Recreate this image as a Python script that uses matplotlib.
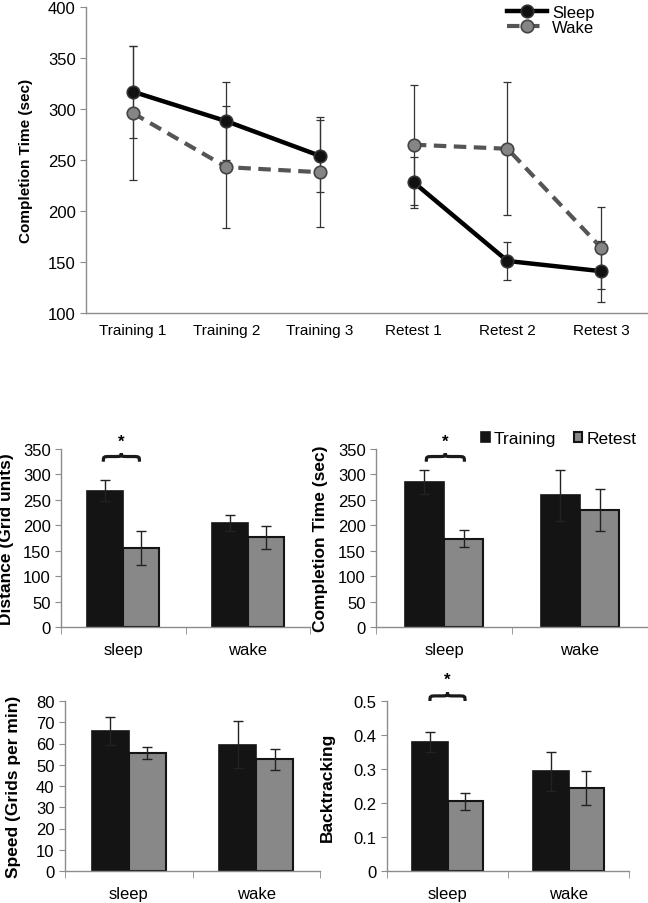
import matplotlib.pyplot as plt
import numpy as np
from matplotlib.path import Path
from matplotlib.patches import PathPatch

plt.rcParams["font.family"] = ["Liberation Sans", "DejaVu Sans"]

# top panel: completion time over sessions
sessions = ["Training 1", "Training 2", "Training 3", "Retest 1", "Retest 2", "Retest 3"]
sleep_time = [317, 288, 254, 228, 151, 141]
sleep_err = [45, 38, 35, 25, 19, 30]
wake_time = [296, 243, 238, 265, 261, 164]
wake_err = [66, 60, 54, 59, 65, 40]

# bottom panels: training vs retest by group
groups = ["sleep", "wake"]
dist_train = [268, 204]
dist_train_err = [21, 16]
dist_retest = [155, 176]
dist_retest_err = [33, 23]

ct_train = [285, 259]
ct_train_err = [24, 50]
ct_retest = [174, 230]
ct_retest_err = [16, 41]

speed_train = [66, 59.5]
speed_train_err = [6.5, 11]
speed_retest = [55.5, 52.5]
speed_retest_err = [3, 5]

back_train = [0.38, 0.293]
back_train_err = [0.03, 0.058]
back_retest = [0.205, 0.245]
back_retest_err = [0.025, 0.05]

W, H = 648, 904
fig = plt.figure(figsize=(W / 100, H / 100), dpi=100)
axis_grey = "#8c8c8c"


def px_axes(l, r, t, b):
    return fig.add_axes([l / W, 1 - b / H, (r - l) / W, (b - t) / H])


def style(ax):
    for s in ["top", "right"]:
        ax.spines[s].set_visible(False)
    for s in ["left", "bottom"]:
        ax.spines[s].set_color(axis_grey)
        ax.spines[s].set_linewidth(1)
    ax.tick_params(axis="y", direction="out", length=4, color=axis_grey, labelsize=12)


def brace(ax, x0, x1, y, h):
    # curly brace, ends pointing down, tip pointing up
    mid = (x0 + x1) / 2
    d = 0.2 * (x1 - x0)
    ym = y + h * 0.6
    verts = [(x0, y), (x0, ym), (x0, ym), (x0 + d, ym),
             (mid - d, ym),
             (mid, ym), (mid, ym), (mid, y + h),
             (mid, ym), (mid, ym), (mid + d, ym),
             (x1 - d, ym),
             (x1, ym), (x1, ym), (x1, y)]
    codes = [Path.MOVETO, Path.CURVE4, Path.CURVE4, Path.CURVE4,
             Path.LINETO,
             Path.CURVE4, Path.CURVE4, Path.CURVE4,
             Path.CURVE4, Path.CURVE4, Path.CURVE4,
             Path.LINETO,
             Path.CURVE4, Path.CURVE4, Path.CURVE4]
    ax.add_patch(PathPatch(Path(verts, codes), fill=False, lw=2.3, color="#1a1a1a",
                           clip_on=False))


# ---- top line chart ----
ax = px_axes(86, 648, 8, 314)
style(ax)
x = np.arange(len(sessions))
ax.errorbar(x, sleep_time, yerr=sleep_err, fmt="none", ecolor="#333333",
            elinewidth=0.9, capsize=3, capthick=0.9)
ax.errorbar(x, wake_time, yerr=wake_err, fmt="none", ecolor="#333333",
            elinewidth=0.9, capsize=3, capthick=0.9)
ax.plot(x[:3], sleep_time[:3], color="black", lw=3.2,
        marker="o", ms=9, mfc="#111111", mec="#333333", mew=1.2, label="Sleep")
ax.plot(x[3:], sleep_time[3:], color="black", lw=3.2,
        marker="o", ms=9, mfc="#111111", mec="#333333", mew=1.2)
ax.plot(x[:3], wake_time[:3], color="#555555", lw=3, ls=(0, (3, 1.8)),
        marker="o", ms=9, mfc="#858585", mec="#444444", mew=1.2, label="Wake")
ax.plot(x[3:], wake_time[3:], color="#555555", lw=3, ls=(0, (3, 1.8)),
        marker="o", ms=9, mfc="#858585", mec="#444444", mew=1.2)
ax.set_xlim(-0.5, len(sessions) - 0.5)
ax.set_ylim(100, 400)
ax.set_yticks(np.arange(100, 401, 50))
ax.set_xticks(x)
ax.set_xticklabels(sessions, fontsize=11)
ax.tick_params(axis="x", length=0, pad=7)
ax.tick_params(axis="y", labelsize=12)
ax.set_ylabel("Completion Time (sec)", fontsize=11, fontweight="bold")
ax.yaxis.set_label_coords(-0.094, 0.5)
ax.legend(loc="upper right", bbox_to_anchor=(0.92, 1.035),
          frameon=False, fontsize=12, handlelength=2.4, handletextpad=0.3,
          labelspacing=0.0, borderpad=0)


# ---- bottom bar charts ----
def bar_panel(ax, train, train_err, retest, retest_err, ymax, step, ylabel, lab_x, fmt):
    style(ax)
    xg = np.arange(len(groups))
    bw = 0.29
    ax.bar(xg - bw / 2, train, bw, color="#141414", edgecolor="#141414", lw=1.2,
           yerr=train_err, error_kw=dict(ecolor="#222222", elinewidth=1, capsize=3.5,
                                         capthick=1), label="Training")
    ax.bar(xg + bw / 2, retest, bw, color="#888888", edgecolor="#141414", lw=1.5,
           yerr=retest_err, error_kw=dict(ecolor="#222222", elinewidth=1, capsize=3.5,
                                          capthick=1), label="Retest")
    ax.set_xlim(-0.5, len(groups) - 0.5)
    ax.set_ylim(0, ymax)
    ticks = np.arange(0, ymax + step / 2, step)
    ax.set_yticks(ticks)
    ax.set_yticklabels([fmt(v) for v in ticks])
    ax.set_xticks(xg)
    ax.set_xticklabels(groups, fontsize=12)
    ax.set_xticks([-0.5, 0.5, 1.5], minor=True)
    ax.tick_params(axis="x", which="major", length=0, pad=11)
    ax.tick_params(axis="x", which="minor", length=5, color=axis_grey)
    ax.set_ylabel(ylabel, fontsize=12.5, fontweight="bold")
    ax.yaxis.set_label_coords(lab_x, 0.5)


ax_a = px_axes(61, 310, 450, 628)
bar_panel(ax_a, dist_train, dist_train_err, dist_retest, dist_retest_err, 350, 50,
          "Distance (Grid units)", -0.19, lambda v: f"{v:g}")
brace(ax_a, -0.16, 0.13, 325, 17)
ax_a.text(-0.015, 366, "*", ha="center", va="center", fontsize=12, fontweight="bold")

ax_b = px_axes(376, 648, 450, 628)
bar_panel(ax_b, ct_train, ct_train_err, ct_retest, ct_retest_err, 350, 50,
          "Completion Time (sec)", -0.176, lambda v: f"{v:g}")
brace(ax_b, -0.13, 0.15, 325, 17)
ax_b.text(0.01, 366, "*", ha="center", va="center", fontsize=12, fontweight="bold")
ax_b.legend(loc="upper right", bbox_to_anchor=(0.99, 1.15), ncol=2, frameon=False,
            fontsize=12.5, handlelength=0.5, handleheight=0.55, handletextpad=0.25,
            columnspacing=1.0, borderpad=0)

ax_c = px_axes(65, 320, 702, 872)
bar_panel(ax_c, speed_train, speed_train_err, speed_retest, speed_retest_err, 80, 10,
          "Speed (Grids per min)", -0.173, lambda v: f"{v:g}")

ax_d = px_axes(387, 629, 702, 872)
bar_panel(ax_d, back_train, back_train_err, back_retest, back_retest_err, 0.5, 0.1,
          "Backtracking", -0.215, lambda v: f"{v:g}")
brace(ax_d, -0.145, 0.145, 0.5, 0.025)
ax_d.text(0.0, 0.565, "*", ha="center", va="center", fontsize=12, fontweight="bold")

fig.savefig("out.png", dpi=100)
